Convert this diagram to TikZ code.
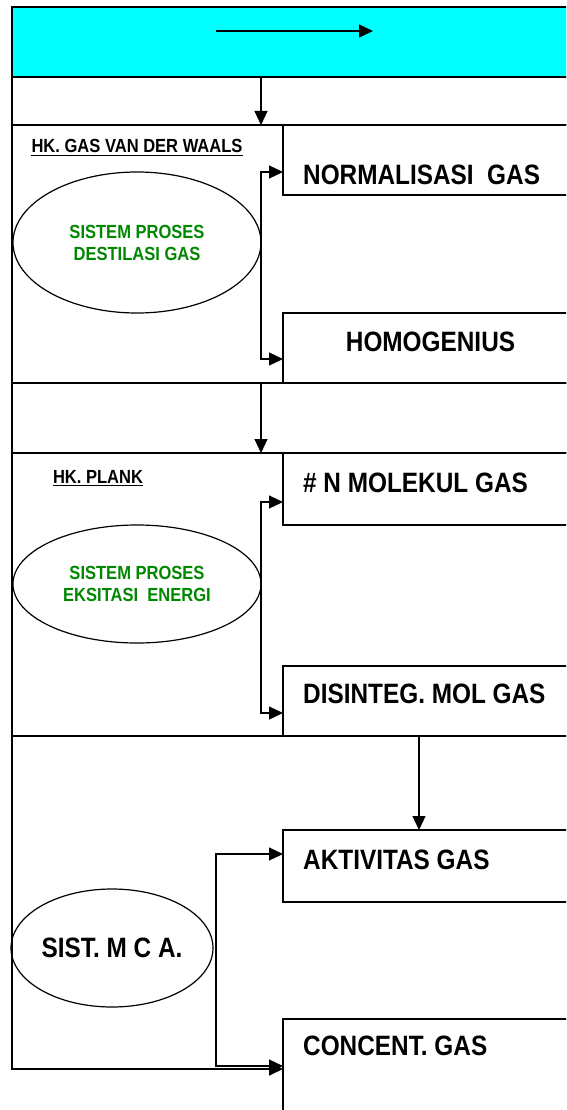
\documentclass[tikz,border=0pt]{standalone}
\usepackage{fontspec}
\setmainfont{Liberation Sans}[FakeStretch=0.87]
\usetikzlibrary{arrows.meta,shapes.geometric}
\definecolor{hdrcyan}{RGB}{0,255,255}
\definecolor{sysgreen}{RGB}{0,136,0}
\begin{document}
\begin{tikzpicture}[x=1pt,y=-1pt,
  panel/.style 2 args={draw,line width=1.6pt,inner sep=0pt,outer sep=0pt,
    minimum width=#1,minimum height=#2},
  sysnode/.style={draw,ellipse,line width=1.2pt,inner sep=0pt,outer sep=0pt,align=center},
  greentext/.style={text=sysgreen,font=\fontsize{19}{22}\selectfont\bfseries},
  bigtext/.style={inner sep=0pt,font=\fontsize{28}{30}\selectfont\bfseries},
  smalltext/.style={inner sep=0pt,font=\fontsize{19}{22}\selectfont\bfseries},
  arr/.style={line width=1.2pt,-{Triangle[length=14pt,width=13pt]}},
  uline/.style={line width=1.4pt}]
\useasboundingbox (0,0) rectangle (566,1110);
\clip (0,0) rectangle (566,1110);

% frame: header, bands and sections
\node[panel={570pt}{70pt},fill=hdrcyan] (hdr) at (297,42) {};
\node[panel={570pt}{48pt}] (band1) at (297,101) {};
\node[panel={570pt}{258pt}] (sec1) at (297,254) {};
\node[panel={570pt}{70pt}] (band2) at (297,418) {};
\node[panel={570pt}{283pt}] (sec2) at (297,594.5) {};

% result boxes
\node[panel={299pt}{70pt}] (norm) at (432.5,160) {};
\node[panel={299pt}{70pt}] (homo) at (432.5,348) {};
\node[panel={299pt}{72pt}] (nmol) at (432.5,489) {};
\node[panel={299pt}{70pt}] (disint) at (432.5,701) {};
\node[panel={299pt}{72pt}] (akt) at (432.5,866) {};
\node[panel={299pt}{100pt}] (conc) at (432.5,1069) {};

% box labels
\node[bigtext,anchor=base west] (normtxt) at (303,185) {NORMALISASI\ \ GAS};
\node[bigtext,anchor=base] (homotxt) at (430.5,351) {HOMOGENIUS};
\node[bigtext,anchor=base west] (nmoltxt) at (303,492) {\# N MOLEKUL GAS};
\node[bigtext,anchor=base west] (disinttxt) at (303,703) {DISINTEG. MOL GAS};
\node[bigtext,anchor=base west] (akttxt) at (303,869) {AKTIVITAS GAS};
\node[bigtext,anchor=base west] (conctxt) at (303,1055) {CONCENT. GAS};

% law headings
\node[smalltext,anchor=base] (hkvdw) at (137,153) {HK. GAS VAN DER WAALS};
\draw[uline] ([yshift=-2.5pt]hkvdw.base west) -- ([yshift=-2.5pt]hkvdw.base east);
\node[smalltext,anchor=base] (hkplank) at (98,483) {HK. PLANK};
\draw[uline] ([yshift=-2.5pt]hkplank.base west) -- ([yshift=-2.5pt]hkplank.base east);

% process systems
\node[sysnode,greentext,minimum width=248pt,minimum height=141pt] (dest) at (137,242.5)
  {SISTEM PROSES\\DESTILASI GAS};
\node[sysnode,greentext,minimum width=248pt,minimum height=118pt] (exc) at (137,584)
  {SISTEM PROSES\\EKSITASI\ \ ENERGI};
\node[sysnode,font=\fontsize{28}{30}\selectfont\bfseries,minimum width=202pt,minimum height=118pt] (mca) at (112,948)
  {SIST. M C A.};

% header arrow
\coordinate (hstart) at (216,31);
\coordinate (hend) at (373,31);
\draw[arr] (hstart) -- (hend);

% flow between sections
\draw[arr] (hdr.south -| dest.east) -- (sec1.north -| dest.east);
\draw[arr] (dest.east) |- ([yshift=-12pt]norm.west);
\draw[arr] (dest.east) |- ([yshift=-11pt]homo.west);
\draw[arr] (sec1.south -| dest.east) -- (sec2.north -| dest.east);
\draw[arr] (exc.east) |- ([yshift=-13pt]nmol.west);
\draw[arr] (exc.east) |- ([yshift=-12pt]disint.west);
\coordinate (drop) at ([xshift=-13.5pt]akt.north);
\draw[arr] (sec2.south -| drop) -- (drop);
\coordinate (spine) at ([xshift=3pt]mca.east);
\draw[arr] (spine) |- ([yshift=12pt]akt.west);
\draw[arr] (spine) |- ([yshift=3pt]conc.west);
\draw[line width=1.6pt,-{Triangle[length=14pt,width=13pt]}] (sec2.south west) |- (conc.west);
\end{tikzpicture}
\end{document}
